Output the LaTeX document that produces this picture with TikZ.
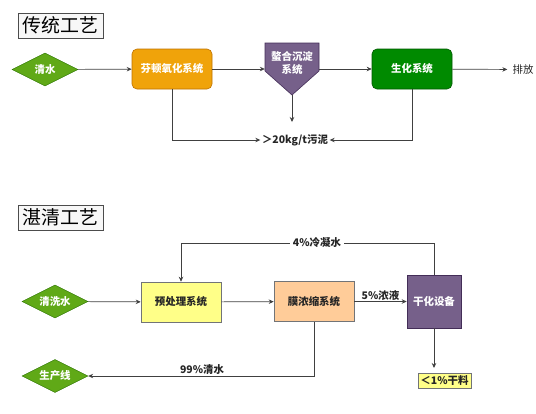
\documentclass[tikz,border=0pt]{standalone}
\usepackage{fontspec}
\setmainfont{Noto Sans CJK SC}
\usetikzlibrary{shapes.geometric,arrows.meta}
\definecolor{dgreen}{HTML}{60A917}\definecolor{dgreenb}{HTML}{2D7600}
\definecolor{orng}{HTML}{F0A30A}\definecolor{orngb}{HTML}{BD7000}
\definecolor{purp}{HTML}{76608A}\definecolor{purpb}{HTML}{432D57}
\definecolor{grn}{HTML}{008A00}\definecolor{grnb}{HTML}{005700}
\definecolor{ylw}{HTML}{FFFF88}\definecolor{peach}{HTML}{FFCC99}
\definecolor{edge}{HTML}{36393D}\definecolor{lin}{HTML}{404040}
\tikzset{
  arr/.style={draw=lin, line width=0.7pt, -{Stealth[length=5pt,width=4.5pt]}},
  titlebox/.style={draw=black!70, fill=black!3, line width=0.6pt, minimum width=85bp, minimum height=25bp, inner sep=0pt, font=\fontsize{19}{20}\selectfont},
  dia/.style={diamond, aspect=2, inner sep=0pt, minimum width=66bp, minimum height=33bp, fill=dgreen, draw=dgreenb, text=white, font=\fontsize{10.5}{11}\selectfont\bfseries},
  pbox/.style={rectangle, minimum width=80bp, minimum height=40bp, inner sep=0pt, line width=0.6pt, font=\fontsize{10.5}{11}\selectfont\bfseries},
  lbl/.style={inner sep=1pt, font=\fontsize{10.5}{11}\selectfont\bfseries, text=black!85},
}
\begin{document}
\begin{tikzpicture}[x=1bp,y=-1bp]
\useasboundingbox (0,0) rectangle (536,413);
% --- top section ---
\node[titlebox] (t1) at (60.5,25.5) {传统工艺};
\node[dia] (qs) at (45,69.5) {清水};
\node[pbox, fill=orng, draw=orngb, rounded corners=5bp, text=white] (fd) at (172,69) {芬顿氧化系统};
\node[rectangle, minimum width=54bp, minimum height=52bp, inner sep=0pt] (ch) at (292,69) {};
\fill[purp, draw=purpb, line width=0.6pt] (265,43) -- (319,43) -- (319,71) -- (292,95) -- (265,71) -- cycle;
\node[align=center, text=white, font=\fontsize{10.5}{12.5}\selectfont\bfseries] (cht) at (292,63) {螯合沉淀\\系统};
\node[pbox, fill=grn, draw=grnb, rounded corners=5bp, text=white] (sh) at (412,69) {生化系统};
\node[lbl, font=\fontsize{10.5}{11}\selectfont, inner xsep=5pt] (pf) at (523,69.5) {排放};
\node[lbl, inner sep=1.5pt] (sl) at (295,140) {＞20kg/t污泥};
\coordinate (chb) at (292,122);
\draw[arr] (qs) -- (fd);
\draw[arr] (fd) -- (ch);
\draw[arr] (ch) -- (sh);
\draw[arr] (sh) -- (pf);
\draw[arr] (ch.south) -- (chb);
\draw[arr] (fd.south) |- (sl.west);
\draw[arr] (sh.south) |- (sl.east);
% --- bottom section ---
\node[titlebox] (t2) at (60.5,217.5) {湛清工艺};
\node[dia] (qxs) at (55,301.5) {清洗水};
\node[pbox, fill=ylw, draw=edge!70, text=black!85] (yc) at (181,302) {预处理系统};
\node[pbox, fill=peach, draw=edge!70, text=black!85] (mn) at (314,301.5) {膜浓缩系统};
\node[pbox, minimum width=54bp, minimum height=53bp, fill=purp, draw=purpb, text=white] (gh) at (434,301.5) {干化设备};
\node[pbox, minimum width=53bp, minimum height=15bp, fill=ylw, draw=edge!70, text=black!85] (gl) at (444.5,380.5) {＜1\%干料};
\node[dia] (scx) at (55,376) {生产线};
\draw[arr] (qxs) -- (yc);
\draw[arr] (yc) -- (mn);
\draw[arr] (mn) -- node[lbl, above=0pt] (nl) {5\%浓液} (gh);
\coordinate (ghb) at (434,368);
\draw[arr] (gh.south) -- (ghb);
\coordinate (fbr) at (434,243);
\draw[arr] (gh.north) -- (fbr) -| (yc.north);
\node[lbl, fill=white, inner xsep=3pt] (ln4) at (317,243) {4\%冷凝水};
\draw[arr] (mn.south) |- (scx.east);
\node[lbl] (l99) at (202,369.5) {99\%清水};
\end{tikzpicture}
\end{document}
